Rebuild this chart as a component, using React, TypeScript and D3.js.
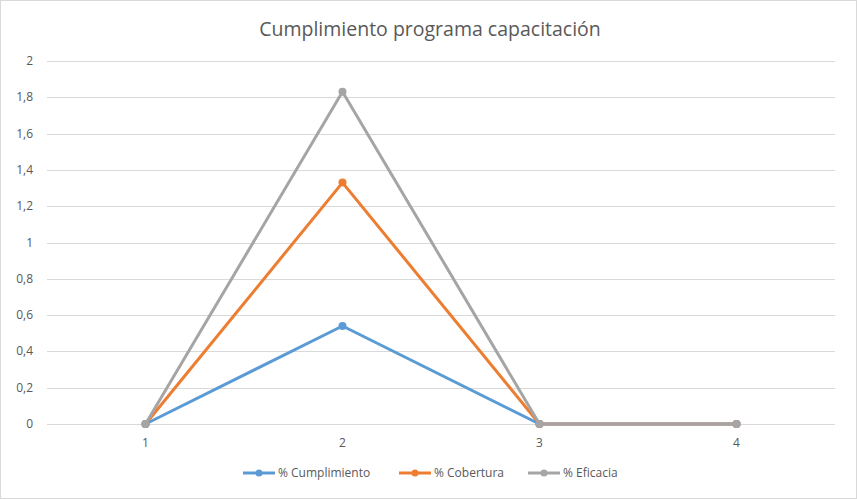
import React from "react";
import * as d3 from "d3";

const categories = ["1", "2", "3", "4"];
const cumplimiento = [0, 0.54, 0, 0];
const cobertura = [0, 1.33, 0, 0];
const eficacia = [0, 1.83, 0, 0];
const yTicks = [0, 0.2, 0.4, 0.6, 0.8, 1, 1.2, 1.4, 1.6, 1.8, 2];

const seriesNames = ["% Cumplimiento", "% Cobertura", "% Eficacia"];
const seriesColors = ["#5B9BD5", "#ED7D31", "#A5A5A5"];

const W = 857;
const H = 499;
const FONT = '"Open Sans", sans-serif';

const App = () => {
  const ref = React.useRef<SVGSVGElement>(null);

  React.useEffect(() => {
    document.body.style.margin = "0";
    const svg = d3.select(ref.current);
    svg.selectAll("*").remove();

    // background + border
    svg.append("rect")
      .attr("x", 0.5).attr("y", 0.5)
      .attr("width", W - 1).attr("height", H - 1)
      .attr("fill", "white")
      .attr("stroke", "#D9D9D9");

    svg.append("text")
      .attr("x", 430).attr("y", 36)
      .attr("text-anchor", "middle")
      .attr("font-family", FONT)
      .attr("font-size", "19.5px")
      .attr("fill", "#595959")
      .text("Cumplimiento programa capacitación");

    const x = d3.scaleBand().domain(categories).range([47, 835]);
    const y = d3.scaleLinear().domain([0, 2]).range([424, 61]);
    const fmt = (v: number) => d3.format(".1~f")(v).replace(".", ",");

    // gridlines
    svg.append("g").selectAll("line").data(yTicks).join("line")
      .attr("x1", 47).attr("x2", 835)
      .attr("y1", d => Math.round(y(d)) + 0.5).attr("y2", d => Math.round(y(d)) + 0.5)
      .attr("stroke", "#D9D9D9").attr("stroke-width", 1);

    svg.append("g").selectAll("text").data(yTicks).join("text")
      .attr("x", 33).attr("y", d => y(d) + 4)
      .attr("text-anchor", "end")
      .attr("font-family", FONT).attr("font-size", "12px")
      .attr("fill", "#595959")
      .text(d => fmt(d));

    svg.append("g").selectAll("text").data(categories).join("text")
      .attr("x", d => x(d)! + x.bandwidth() / 2).attr("y", 447)
      .attr("text-anchor", "middle")
      .attr("font-family", FONT).attr("font-size", "12px")
      .attr("fill", "#595959")
      .text(d => d);

    const all = [cumplimiento, cobertura, eficacia];
    const line = d3.line<number>()
      .x((_, i) => x(categories[i])! + x.bandwidth() / 2)
      .y(d => y(d));

    all.forEach((vals, si) => {
      const g = svg.append("g");
      g.append("path")
        .attr("d", line(vals))
        .attr("fill", "none")
        .attr("stroke", seriesColors[si])
        .attr("stroke-width", 3)
        .attr("stroke-linejoin", "round");
      g.selectAll("circle").data(vals).join("circle")
        .attr("cx", (_, i) => x(categories[i])! + x.bandwidth() / 2)
        .attr("cy", d => y(d))
        .attr("r", 4)
        .attr("fill", seriesColors[si]);
    });

    // legend
    const legendX = [243, 399, 528];
    seriesNames.forEach((name, i) => {
      const lg = svg.append("g").attr("transform", `translate(${legendX[i]},473)`);
      lg.append("line")
        .attr("x1", 0).attr("x2", 32).attr("y1", 0).attr("y2", 0)
        .attr("stroke", seriesColors[i]).attr("stroke-width", 3);
      lg.append("circle").attr("cx", 16).attr("cy", 0).attr("r", 3.5).attr("fill", seriesColors[i]);
      lg.append("text")
        .attr("x", 35).attr("y", 4)
        .attr("font-family", FONT).attr("font-size", "12px")
        .attr("fill", "#595959")
        .text(name);
    });
  }, []);

  return <svg ref={ref} width={W} height={H} style={{ display: "block" }}></svg>;
};

export default App;
